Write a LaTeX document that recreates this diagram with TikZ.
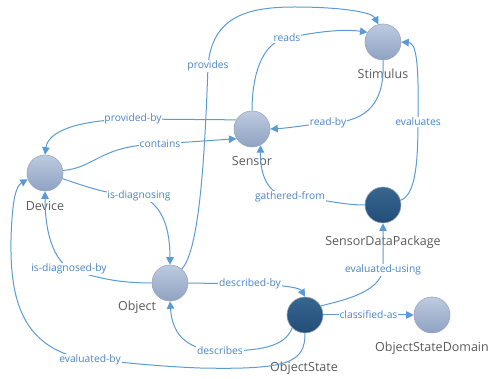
\documentclass[tikz,border=0pt]{standalone}
\usepackage{fontspec}
\setmainfont{Open Sans}
\usetikzlibrary{arrows.meta}
\definecolor{linkblue}{HTML}{5B9BD5}
\definecolor{linktext}{HTML}{4A84C4}
\definecolor{nametext}{HTML}{5A5A5A}
\definecolor{lighttop}{HTML}{BECBE0}
\definecolor{lightbot}{HTML}{8EA2C2}
\definecolor{darktop}{HTML}{37668F}
\definecolor{darkbot}{HTML}{224D78}
\definecolor{ringgray}{HTML}{9AA7BA}
\begin{document}
\begin{tikzpicture}[x=1pt,y=-1pt,
  lightball/.style={circle,minimum size=36pt,inner sep=0pt,top color=lighttop,bottom color=lightbot,draw=ringgray,line width=0.6pt},
  darkball/.style={circle,minimum size=36pt,inner sep=0pt,top color=darktop,bottom color=darkbot,draw=ringgray,line width=0.6pt},
  nametag/.style={text=nametext,font=\fontsize{12.5}{14}\selectfont,inner sep=0pt},
  rel/.style={draw=linkblue,line width=1pt,-{Triangle[length=7.5pt,width=7.5pt]}},
  rellbl/.style={fill=white,text=linktext,font=\fontsize{10.3}{12}\selectfont,inner sep=0.8pt}]
  \useasboundingbox (0,0) rectangle (491,379);
  \node[lightball] (stim) at (383,42) {}; \node[lightball] (sensor) at (252,129) {};
  \node[lightball] (device) at (45,173) {}; \node[lightball] (object) at (170,283) {};
  \node[darkball] (ostate) at (305,315) {}; \node[darkball] (sdp) at (383,205) {};
  \node[lightball] (osd) at (432,315) {};
  \node[nametag] (stimtxt) at (383,74) {Stimulus}; \node[nametag] (sensortxt) at (252,161) {Sensor};
  \node[nametag] (devicetxt) at (45,206) {Device}; \node[nametag] (objecttxt) at (137,307) {Object};
  \node[nametag] (ostatetxt) at (304,368) {ObjectState}; \node[nametag] (sdptxt) at (383,242) {SensorDataPackage};
  \node[nametag] (osdtxt) at (432,348) {ObjectStateDomain};
  \draw[rel] (object.50) .. controls (200,250) and (205,150) .. (208,66) node[rellbl]{provides} .. controls (212,15) and (250,7) .. (295,7) .. controls (340,7) and (372,12) .. (stim.105);
  \draw[rel] (sensor.north) .. controls (252,75) and (262,42) .. (287,38) node[rellbl]{reads} .. controls (320,31) and (345,29) .. (stim.148);
  \draw[rel] (stim.south) .. controls (385,100) and (370,122) .. (328,123) node[rellbl]{read-by} .. controls (305,125) and (290,128) .. (sensor.east);
  \draw[rel] (sdp.15) .. controls (414,195) and (418,170) .. (418,122) node[rellbl]{evaluates} .. controls (419,60) and (416,43) .. (stim.east);
  \draw[rel] (sdp.west) .. controls (340,205) and (320,198) .. (290,197) node[rellbl]{gathered-from} .. controls (266,195) and (260,172) .. (sensor.-62);
  \draw[rel] (sensor.150) -- (133,119) node[rellbl]{provided-by} .. controls (75,120) and (48,132) .. (device.north);
  \draw[rel] (device.8) .. controls (95,168) and (100,145) .. (160,144) node[rellbl]{contains} -- (sensor.212);
  \draw[rel] (device.-18) .. controls (90,188) and (110,195) .. (139,196) node[rellbl]{is-diagnosing} .. controls (163,203) and (170,230) .. (object.north);
  \draw[rel] (object.west) .. controls (115,283) and (95,277) .. (69,269) node[rellbl]{is-diagnosed-by} .. controls (50,255) and (45,225) .. (device.south);
  \draw[rel] (object.east) -- (250,284) node[rellbl]{described-by} .. controls (285,285) and (300,288) .. (ostate.north);
  \draw[rel] (ostate.225) .. controls (285,347) and (260,351) .. (220,351) node[rellbl]{describes} .. controls (182,350) and (172,330) .. (object.south);
  \draw[rel] (ostate.south) .. controls (305,362) and (290,370) .. (200,368) .. controls (150,366) and (125,362) .. (90,360) node[rellbl]{evaluated-by} .. controls (22,350) and (10,300) .. (11,240) .. controls (12,200) and (16,186) .. (device.200);
  \draw[rel] (ostate.30) .. controls (345,300) and (379,292) .. (383,270) node[rellbl]{evaluated-using} -- (sdp.south);
  \draw[rel] (ostate.east) -- node[rellbl]{classified-as} (osd.west);
\end{tikzpicture}
\end{document}
